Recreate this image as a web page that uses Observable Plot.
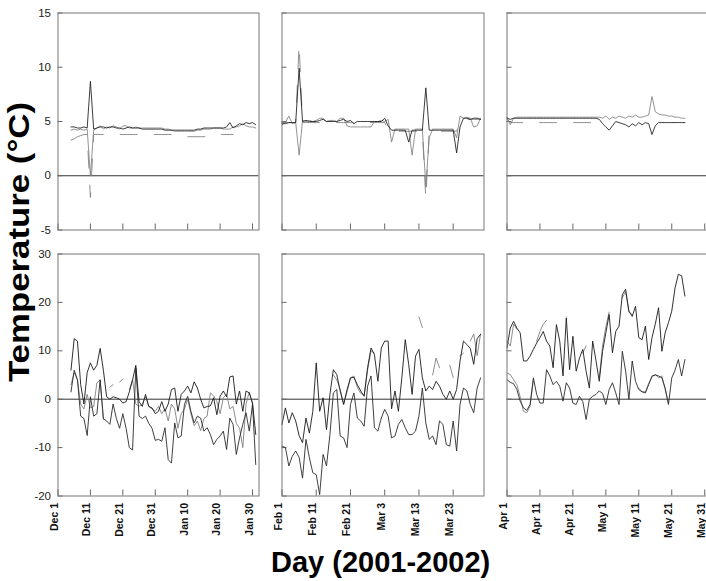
<!DOCTYPE html>
<html>
<head>
<meta charset="utf-8">
<script src="https://cdn.jsdelivr.net/npm/d3@7"></script>
<script src="https://cdn.jsdelivr.net/npm/@observablehq/plot@0.6"></script>
<style>
  body { margin: 0; background: #fff; }
  #chart { position: relative; width: 706px; height: 581px; overflow: hidden; background: #fff;
           font-family: "Liberation Sans", Arial, sans-serif; }
  .title { position: absolute; font-weight: bold; font-size: 29px; color: #000; white-space: nowrap; line-height: normal; }
</style>
</head>
<body>
<div id="chart"></div>
<script>
const N = null;

// ---- x periods (one per column) ----
const periodStarts = ["2001-12-01", "2002-02-01", "2002-04-01"];
const periodEnds   = ["2002-02-01", "2002-04-01", "2002-06-01"];
const tickDates = [
  ["2001-12-01", "2001-12-11", "2001-12-21", "2001-12-31", "2002-01-10", "2002-01-20", "2002-01-30"],
  ["2002-02-01", "2002-02-11", "2002-02-21", "2002-03-03", "2002-03-13", "2002-03-23"],
  ["2002-04-01", "2002-04-11", "2002-04-21", "2002-05-01", "2002-05-11", "2002-05-21", "2002-05-31"]
];
const yTicksTop = [-5, 0, 5, 10, 15];
const yTicksBottom = [-20, -10, 0, 10, 20, 30];

// ---- top row series (daily from Dec 1, 2001) ----
const waterA = [ // black
  N,N,N,N,4.5,4.5,4.4,4.4,4.5,4.4,8.7,4.3,4.4,4.5,4.5,4.4,4.5,4.5,4.4,4.4,4.3,4.4,4.5,4.4,4.4,4.4,4.3,4.3,4.3,4.3,4.3,
  4.3,4.3,4.2,4.2,4.2,4.2,4.2,4.2,4.2,4.2,4.2,4.2,4.3,4.3,4.4,4.4,4.4,4.4,4.4,4.4,4.4,4.5,4.9,4.4,4.6,4.8,4.7,4.9,4.8,4.9,4.7,
  4.8,4.8,4.9,4.9,4.9,9.9,5.0,5.1,5.0,5.0,5.0,5.1,5.2,5.0,5.0,5.0,5.0,5.1,5.2,5.0,5.1,4.8,5.0,5.0,5.0,5.0,5.0,5.0,
  5.0,5.0,5.3,4.6,4.2,4.2,4.2,4.2,4.2,3.1,4.2,4.2,4.2,4.2,8.1,4.2,4.2,4.2,4.2,4.2,4.2,4.2,4.2,2.1,4.5,5.3,5.3,5.2,5.3,5.3,5.2,
  5.3,5.2,5.3,5.3,5.3,5.3,5.3,5.3,5.3,5.3,5.3,5.3,5.3,5.3,5.3,5.3,5.3,5.3,5.3,5.3,5.3,5.3,5.3,5.3,5.3,5.3,5.3,5.3,5.2,4.8,
  4.5,4.2,4.6,5.0,4.9,4.8,4.7,4.5,4.8,4.6,4.9,4.7,4.9,4.8,3.8,4.6,4.9,4.9,4.9,4.9,4.9,4.9,4.9,4.9,4.9,N,N,N,N,N,N
];
const waterB = [ // gray
  N,N,N,N,4.2,4.3,4.2,4.3,4.2,4.3,0,4.2,4.4,4.6,4.3,4.5,4.4,4.6,4.5,4.3,4.6,4.6,4.4,4.4,4.5,4.4,4.4,4.4,4.4,4.4,4.4,
  4.4,4.4,4.3,4.3,4.2,4.1,4.1,4.1,4.1,4.1,4.1,4.1,4.2,4.2,4.3,4.3,4.3,4.4,4.4,4.4,4.3,4.3,4.3,4.5,4.5,4.6,4.8,4.6,4.5,4.5,4.4,
  4.7,4.9,5.5,4.8,4.9,1.9,5.1,5.0,5.1,5.0,5.1,5.3,5.3,5.0,5.1,5.1,5.0,5.3,5.3,4.6,4.5,4.5,4.5,4.5,4.5,4.5,4.5,5.0,
  5.0,5.1,5.0,5.2,3.1,4.3,4.3,4.3,4.3,4.3,1.9,4.3,4.3,4.3,-1.0,3.5,4.3,4.3,4.3,4.3,4.3,4.3,4.3,3.5,5.5,5.3,5.4,5.3,4.5,4.6,5.3,
  5.4,4.7,5.3,5.4,5.4,5.4,5.4,5.4,5.4,5.4,5.4,5.4,5.4,5.4,5.4,5.4,5.4,5.4,5.4,5.4,5.4,5.4,5.4,5.4,5.4,5.4,5.4,5.4,5.4,5.3,
  5.5,5.2,5.4,5.3,5.5,5.4,5.3,5.5,5.4,5.6,5.4,5.4,5.5,5.6,7.3,5.9,5.7,5.6,5.6,5.5,5.5,5.4,5.4,5.3,5.3,N,N,N,N,N,N
];
const waterC = [ // gray dashed
  N,N,N,N,3.3,3.4,3.6,3.7,3.8,3.8,-2,3.8,3.8,3.8,3.8,3.8,3.8,3.8,3.8,3.8,3.8,3.8,3.8,3.8,3.8,3.8,3.8,3.8,3.8,3.8,3.8,
  3.8,3.8,3.8,3.8,3.8,3.7,3.7,3.7,3.6,3.6,3.6,3.6,3.6,3.6,3.6,3.6,3.7,3.8,3.8,3.8,3.8,3.8,3.8,3.8,N,N,N,N,N,N,N,
  4.9,4.9,4.9,4.9,4.9,12.1,4.9,4.9,4.9,4.9,4.9,4.9,4.9,4.9,4.9,4.9,4.9,4.9,4.9,4.9,4.9,4.9,4.9,4.9,4.9,4.9,4.9,4.9,
  4.9,4.9,4.9,4.2,4.1,4.1,4.1,4.1,4.1,4.1,4.1,4.1,4.1,4.1,-2.1,4.1,4.1,4.1,4.1,4.1,4.1,4.1,4.1,4.1,5.0,5.2,5.2,5.2,5.2,5.2,5.2,
  5.2,4.9,4.9,4.9,4.9,4.9,4.9,4.9,4.9,4.9,4.9,4.9,4.9,4.9,4.9,4.9,4.9,4.9,4.9,4.9,4.9,4.9,4.9,4.9,4.9,4.9,4.9,N,N,N
];

// ---- bottom row series (daily from Dec 1, 2001) ----
const airHi = [
  N,N,N,N,6,12.5,12,3,-1,5.5,7.5,6,7,10.5,6,0.5,0,0.5,0.3,0,-0.8,-0.5,1.5,4,7,-0.5,-1.5,1,-1.5,-1.8,-3,
  -2.5,-0.5,-2.5,-1,2,2.3,-2.5,1,1.7,2.7,1.3,3.6,2.3,0,-1.8,-1.5,-1.4,0.3,-3.2,0.6,1.7,0.5,4.6,4.8,-1,1.7,-2.5,1.7,1.3,-0.8,-7.3,
  -5.2,-1.8,-4.9,-2.8,-4.5,-7.5,-9,-3.9,-7,-2.5,7.5,-2.5,0.3,-6.3,1,6.1,5.1,1.7,-1.1,2,4.4,4.5,3,1.7,0.6,6.5,10.6,9.2,
  3.7,10.6,12,12,-2,1.7,-2.5,4.4,12.3,7.2,1,8.9,10.3,4.4,1.7,2.7,2,3.7,2.7,1,0,1.7,0,2,7.9,12,11.3,10.5,7.2,12.5,13.4,
  10.6,14.7,16.1,14.7,13.7,7.9,7.9,8.9,10.3,11.6,12.7,14,12,11,6.5,15.4,12,4.8,16.8,6.1,13,5.8,8.5,10.3,5.8,2.3,12,8,3.7,9.9,
  13.7,17.5,9.6,14,15.1,21.6,22.7,18.2,17.1,19.2,12.7,12.3,15.1,8.2,12.7,15.5,18.9,9.9,13.7,15.8,18.2,23,25.8,25.5,21.3,N,N,N,N,N,N
];
const airLo = [
  N,N,N,N,1.5,6,4,-3.5,-4,-7.5,0.5,-3.5,-3,4,-4,-4.5,-5.2,-1,-4,-6,-3,-6,-10,-10.5,6.5,-3.5,-4,-3.5,-5,-6,-8.5,
  -8.3,-8.7,-5.9,-12.5,-13.2,-4.9,-8,-7.6,-1.1,0.6,-2.5,-4.9,-3.5,-3.9,-6.6,-5.9,-7.3,-9.4,-8.3,-7.6,-6.6,-10.4,-3.9,-5.2,-11.4,-8,-5.2,-2.8,-6.6,-1,-13.5,
  -9.7,-10,-13.8,-11.8,-10.7,-12,-16.3,-8.3,-12.1,-15.2,-15.6,-19.7,-11.4,-13.8,-7.3,1.3,2,-7.6,-8,-10,-1.1,1.3,-3.9,-4.5,-5.6,2.7,4.8,-5.9,
  -6.6,-3.9,-2.1,-3.5,-8,-7.6,-5.2,-4.2,-5.9,-7.3,-7.3,-6.6,-3.5,2.3,-4.9,-8.3,-7.6,-9.4,-4.5,-5.2,-9.4,-9.7,-4.5,-10.7,-1.1,2.3,1.7,-1.1,-2.8,2.3,4.4,
  4,3.5,3.2,2,-0.4,-1.8,-2.3,-1.1,4.4,1,-0.8,-0.8,6.1,4.8,3,3.7,2.7,-0.4,3.4,2.3,-0.8,-1.1,0.6,-0.5,-4.2,0,0.6,1,1.7,1.2,
  -1.1,2,3.4,1.3,-1.1,9.9,5.8,0,7.9,3.7,2,1.5,1.3,3,4.8,5,4.8,4.4,2.3,-1.1,4.4,6,8.2,4.8,8.2,N,N,N,N,N,N
];
const airMid = [ // gray, with gaps
  N,N,N,N,3,5.5,4,-1,-2,1,-1.8,-1.5,3.4,4,-4.2,N,2.5,3,N,3.5,4.2,N,2,4,-1,-1.5,-1,0.5,-1.5,-2,-2.5,
  -1.5,-3,-2,-4.5,-1,-2,-6,-3,-2,0,-3,-5.5,-4.5,-6.5,-4,-3.5,1.3,0.7,-0.5,-3,0.3,1,-2,-1.5,-5,-6,-10,-1,1.5,-1,N,
  N,N,N,N,N,N,N,N,N,N,N,N,N,N,N,5,4,2,-1,1.5,4.4,4.8,2.5,1.2,0.8,6,10,9.5,
  N,N,N,N,N,N,N,N,N,N,N,N,17,14.8,N,N,5,8.5,6.5,N,N,7,4.5,N,9,9.5,N,12,13.5,9,13.5,
  12,11,15.5,14.5,N,N,N,N,N,12,14,15.5,16.3,N,N,N,N,N,17,N,N,N,N,9.5,11,N,N,N,4.5,11,
  15,18,N,N,N,21,22.2,18,17.5,N,N,N,N,N,N,N,N,N,N,N,N,N,N,N,N,N,N,N,N,N,N
];
const airLo2Start = "2002-04-01";
const airLo2 = [ // gray, Apr 1 onward
  5.4,5.1,4,3,0.5,-2.5,-2.8,-1.5,3.8,N,N,N,N,N,N,N,N,N,N,N,N,N,N,N,N,N,N,N,N,N,
  N,N,N,N,N,N,N,N,N,N,2.3,1.6,1.5,3.3,4.5,5.2,4.4,4.8,2.0,-0.8,N,N,N,N,N,N,N,N,N,N,N
];

// ---- build ----
const fmt = d3.utcFormat("%b %-d");
const parse = d3.utcParse("%Y-%m-%d");
function daily(startStr, values) {
  const s = parse(startStr);
  return values.map((v, i) => ({date: d3.utcDay.offset(s, i), value: v}));
}
const seriesStart = "2001-12-01";
const topSeries = [
  {data: daily(seriesStart, waterC), stroke: "#7a7a7a", width: 0.85, dash: "17,17"},
  {data: daily(seriesStart, waterB), stroke: "#808080", width: 0.85, dash: null},
  {data: daily(seriesStart, waterA), stroke: "#1a1a1a", width: 0.85, dash: null}
];
const bottomSeries = [
  {data: daily(seriesStart, airMid), stroke: "#808080", width: 0.9, dash: null},
  {data: daily(airLo2Start, airLo2), stroke: "#808080", width: 0.9, dash: null},
  {data: daily(seriesStart, airLo), stroke: "#2a2a2a", width: 0.9, dash: null},
  {data: daily(seriesStart, airHi), stroke: "#1a1a1a", width: 0.9, dash: null}
];

const W = 712, H = 581;
const colX = [[57.5, 258.5], [281.5, 483.5], [506.5, 707.5]];
const rowY = [[12.5, 229.5], [253.5, 495.5]];
const chart = document.getElementById("chart");

for (let r = 0; r < 2; r++) {
  for (let c = 0; c < 3; c++) {
    const [x0, x1] = colX[c];
    const [y0, y1] = rowY[r];
    const s = parse(periodStarts[c]), e = parse(periodEnds[c]);
    const ticks = tickDates[c].map(parse);
    const yTicks = r === 0 ? yTicksTop : yTicksBottom;
    const yDomain = r === 0 ? [-5, 15] : [-20, 30];
    const series = r === 0 ? topSeries : bottomSeries;
    const marks = [
      Plot.ruleY([0], {stroke: "#333", strokeWidth: 1}),
      Plot.tickX(ticks, {x: d => d, stroke: "#666", insetTop: (y1 - y0) - 6}),
      Plot.tickY(yTicks, {y: d => d, stroke: "#666", insetRight: (x1 - x0) - 5})
    ];
    for (const sr of series) {
      marks.push(Plot.line(sr.data.filter(d => d.date >= s && d.date < e), {
        x: "date", y: "value", stroke: sr.stroke, strokeWidth: sr.width,
        strokeDasharray: sr.dash || undefined
      }));
    }
    marks.push(Plot.frame({stroke: "#777", strokeWidth: 1}));
    if (c === 0) {
      marks.push(Plot.text(yTicks, {y: d => d, text: d => String(d), frameAnchor: "left",
        textAnchor: "end", dx: -7, fontSize: 11.5, fill: "#222"}));
    }
    if (r === 1) {
      marks.push(Plot.text(ticks, {x: d => d, text: d => fmt(d), frameAnchor: "bottom",
        rotate: -90, textAnchor: "end", dy: 7, fontSize: 10.5, fontWeight: "bold", fill: "#111"}));
    }
    const svg = Plot.plot({
      width: W, height: H,
      marginLeft: x0, marginRight: W - x1, marginTop: y0, marginBottom: H - y1,
      style: "position:absolute; left:0; top:0; background:transparent; max-width:none; overflow:hidden; font-family:'Liberation Sans', Arial, sans-serif;",
      x: {type: "utc", domain: [s, e], axis: null},
      y: {domain: yDomain, axis: null},
      marks
    });
    chart.appendChild(svg);
  }
}

// axis titles
const yt = document.createElement("div");
yt.className = "title";
yt.textContent = "Temperature (°C)";
yt.style.left = "19px"; yt.style.top = "242px";
yt.style.transform = "translate(-50%, -50%) rotate(-90deg) scaleX(1.2)";
chart.appendChild(yt);

const xt = document.createElement("div");
xt.className = "title";
xt.textContent = "Day (2001-2002)";
xt.style.left = "271px"; xt.style.top = "546px";
chart.appendChild(xt);
</script>
</body>
</html>
